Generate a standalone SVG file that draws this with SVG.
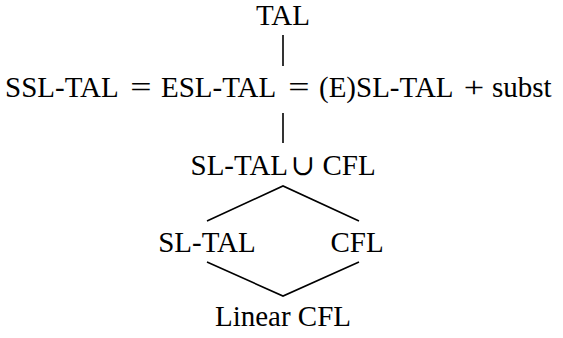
<svg xmlns="http://www.w3.org/2000/svg" width="563" height="338" viewBox="0 0 563 338">
  <style>
    text { font-family: "Liberation Serif", Tinos, "Times New Roman", Times, "DejaVu Serif", serif; font-size: 29px; fill: #000; }
    .c { text-anchor: middle; }
    .op { text-anchor: middle; }
    .edge { stroke: #000; stroke-width: 1.6; fill: none; }
  </style>

  <!-- connectors of the hierarchy -->
  <g id="connectors">
    <line class="edge" x1="283" y1="35" x2="283" y2="66"/>
    <line class="edge" x1="283" y1="113" x2="283" y2="143"/>
    <polyline class="edge" points="207,221 283,186 359,221"/>
    <polyline class="edge" points="207,262 283,296 359,262"/>
  </g>

  <g id="tal">
    <text class="c" x="283" y="25">TAL</text>
  </g>

  <!-- equation row: operators are stretched a little to the width of math symbols -->
  <g id="ssl-tal">
    <text x="5" y="97">SSL-TAL</text>
    <text class="op" transform="translate(141 97) scale(1.3 1)">=</text>
    <text x="161" y="97">ESL-TAL</text>
    <text class="op" transform="translate(299 97) scale(1.3 1)">=</text>
    <text x="319" y="97">(E)SL-TAL</text>
    <text class="op" transform="translate(474 97) scale(1.25 1)">+</text>
    <text x="492" y="97">subst</text>
  </g>

  <g id="sl-tal-union-cfl">
    <text y="175">
      <tspan x="190.5">SL-TAL</tspan>
      <tspan x="306.5" text-anchor="middle">∪</tspan>
      <tspan x="322.5">CFL</tspan>
    </text>
  </g>

  <g id="sl-tal">
    <text class="c" x="207" y="252">SL-TAL</text>
  </g>

  <g id="cfl">
    <text class="c" x="357" y="252">CFL</text>
  </g>

  <g id="linear-cfl">
    <text class="c" x="283" y="326">Linear CFL</text>
  </g>
</svg>
